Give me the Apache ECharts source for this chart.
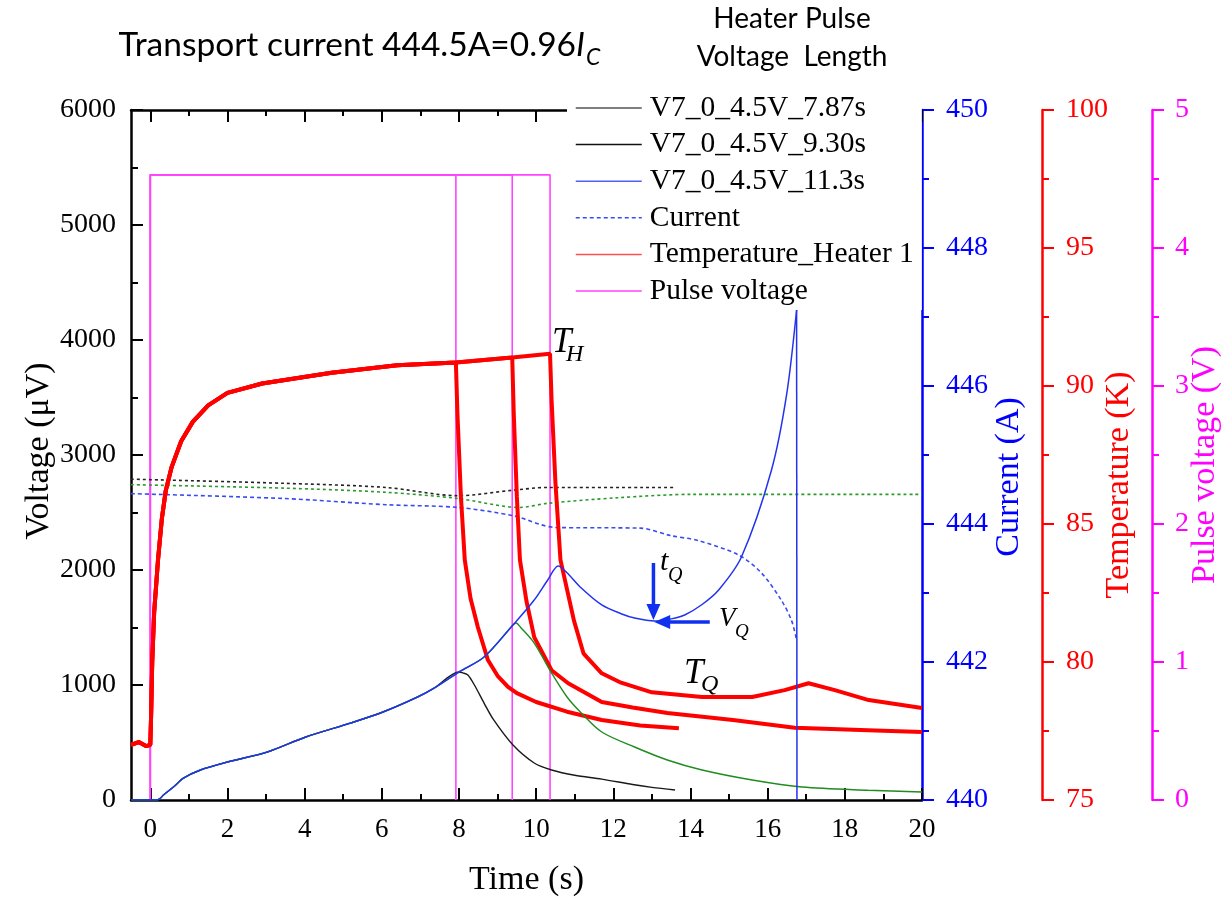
<!DOCTYPE html>
<html><head><meta charset="utf-8">
<script src="https://cdn.jsdelivr.net/npm/echarts@6/dist/echarts.min.js"></script>
<style>html,body{margin:0;padding:0;background:#fff}#c{width:1227px;height:898px}</style>
</head><body><div id="c"></div>
<script>
// ---------- tick labels ----------
const xTicks = [0, 2, 4, 6, 8, 10, 12, 14, 16, 18, 20];
const xMinorTicks = [1, 3, 5, 7, 9, 11, 13, 15, 17, 19];

// ---------- Voltage (µV) vs time (s) ----------
const vRise = [[-0.5,0],[0.15,0],[0.25,12],[0.34,43],[0.6,113],[0.86,190],[1.3,261],[2.0,330],[3.03,417],[4.03,548],[5.2,670],[6.03,765],[6.93,896],[7.36,974],[8.0,1113]];
const vRiseLate = [[8.65,1243],[9.4,1522]];
const vTail787 = [[8.1,1105],[8.23,1087],[8.4,1000],[8.65,843],[8.9,696],[9.4,478],[9.95,322],[10.4,261],[11.0,215],[11.7,182],[12.5,135],[13.0,110],[13.6,87]];
const vTail930 = [[9.48,1539],[9.6,1500],[9.95,1365],[10.4,1104],[10.8,896],[11.17,757],[11.7,591],[12.55,461],[13.4,348],[14.3,261],[15.6,174],[16.9,113],[18.6,85],[20,70]];
const vTail113 = [[9.95,1739],[10.3,1913],[10.57,2035],[10.78,1983],[11.17,1843],[11.7,1696],[12.2,1620],[12.55,1583],[13.07,1557],[13.5,1575],[13.85,1609],[14.3,1700],[14.73,1826],[15.32,2113],[16.1,2870],[16.49,3522],[16.75,4261]];
const vDrop113 = [[16.76,0]];

// ---------- Current (A) ----------
const curr787 = [[-0.5,444.65],[3.45,444.59],[6.1,444.53],[7.97,444.41],[9.4,444.49],[10.3,444.53],[13.6,444.53]];
const curr930 = [[-0.5,444.57],[3.45,444.52],[6.1,444.46],[7.97,444.37],[9.56,444.24],[10.3,444.30],[12.1,444.38],[14.05,444.43],[20,444.43]];
const curr113 = [[-0.5,444.44],[3.45,444.37],[6.1,444.28],[7.97,444.24],[9.4,444.12],[10.5,443.95],[12.7,443.94],[13.5,443.83],[14.2,443.76],[15.25,443.55],[15.84,443.29],[16.36,442.89],[16.62,442.6],[16.75,442.32]];

// ---------- Temperature heater 1 (K) ----------
const tRise = [[-0.5,77.0],[-0.3,77.1],[-0.1,76.95],[0,77.0],[0.02,78],[0.05,80],[0.1,81.8],[0.2,83.7],[0.3,85.2],[0.4,86.2],[0.55,87.05],[0.8,88.0],[1.1,88.7],[1.5,89.3],[2.0,89.75],[2.9,90.09],[4.7,90.48],[6.4,90.75],[7.92,90.85]];
const tRise2 = [[9.38,91.03]];
const tRise3 = [[10.36,91.17]];
const tTail787 = [[7.96,89.0],[8.05,86.0],[8.15,83.7],[8.3,82.3],[8.49,81.26],[8.75,80.07],[9.0,79.5],[9.27,79.1],[9.5,78.87],[10.0,78.55],[10.8,78.2],[11.7,77.9],[12.7,77.7],[13.7,77.6]];
const tTail930 = [[9.42,89.0],[9.5,86.0],[9.58,83.7],[9.75,82.2],[9.95,80.9],[10.4,79.7],[10.83,79.23],[11.7,78.55],[12.5,78.35],[13.4,78.15],[15.1,77.9],[16.7,77.62],[18.6,77.53],[20,77.46]];
const tTail113 = [[10.4,89.5],[10.5,86.5],[10.63,83.7],[10.98,81.5],[11.23,80.3],[11.7,79.59],[12.2,79.25],[13.0,78.9],[14.3,78.73],[15.6,78.73],[16.44,78.98],[17.06,79.23],[17.74,78.98],[18.62,78.62],[20,78.33]];

// ---------- Heater pulse voltage (V) ----------
const pulse787 = [[0,0],[0,4.53],[7.92,4.53],[7.92,0]];
const pulse930 = [[0,0],[0,4.53],[9.38,4.53],[9.38,0]];
const pulse113 = [[0,0],[0,4.53],[10.36,4.53],[10.36,0]];

// ---------- annotation arrows (Time s, Voltage µV) ----------
const arrowTQ = [[13.04,2061],[13.04,1565]];
const arrowVQ = [[14.5,1548],[13.06,1548]];

const SERIF = 'Liberation Serif';
const BLUE = '#0000ff', RED = '#ff0000', MAG = '#ff00ff';

const chart = echarts.init(document.getElementById('c'), null, {renderer:'canvas'});

function xAx(pos, ticks, len, line, labels){
  return {
    type:'value', min:-0.5, max:20, position:pos,
    axisLine:{show:line, onZero:false, lineStyle:{color:'#000', width:2.5}},
    axisTick:{show:true, inside:true, length:len, customValues:ticks, lineStyle:{color:'#000', width:2}},
    axisLabel: labels ? {show:true, customValues:ticks, fontFamily:SERIF, fontSize:27, color:'#000', margin:16}
                      : {show:false},
    splitLine:{show:false}
  };
}
const xAxes = [
  xAx('bottom', xTicks, 12, true, true),
  xAx('bottom', xMinorTicks, 6, false, false),
  xAx('top', xTicks, 12, true, false),
  xAx('top', xMinorTicks, 6, false, false)
];
Object.assign(xAxes[0], {name:'Time (s)', nameLocation:'middle', nameGap:63, nameMoveOverlap:false,
  nameTextStyle:{fontFamily:SERIF, fontSize:34, color:'#000'}});

function yAx(o){
  const c = o.color;
  return {
    type:'value', min:o.min, max:o.max, interval:o.interval, position:o.pos, offset:o.offset||0,
    name:o.name, nameLocation:'middle', nameGap:o.nameGap, nameRotate:90, nameMoveOverlap:false,
    nameTextStyle:{fontFamily:SERIF, fontSize:34, color:c, padding:o.namePad},
    axisLine:{show:true, onZero:false, lineStyle:{color:c, width:2.5}},
    axisTick:{show:true, inside:o.inside, length:12, lineStyle:{color:c, width:2}},
    minorTick:{show:true, splitNumber:2, length:7, lineStyle:{color:c, width:2}},
    axisLabel:{fontFamily:SERIF, fontSize:28, color:c, margin:o.margin, formatter:(v)=>String(v)},
    splitLine:{show:false}, minorSplitLine:{show:false}
  };
}
const yAxes = [
  yAx({min:0,max:6000,interval:1000,pos:'left',color:'#000',name:'Voltage (\u03bcV)',nameGap:75,namePad:[0,0,0,8],inside:true,margin:15}),
  yAx({min:440,max:450,interval:2,pos:'right',color:BLUE,name:'Current (A)',nameGap:70,namePad:[0,44,0,0],inside:false,margin:24}),
  yAx({min:75,max:100,interval:5,pos:'right',offset:120,color:RED,name:'Temperature (K)',nameGap:60,namePad:[0,60,0,0],inside:false,margin:24}),
  yAx({min:0,max:5,interval:1,pos:'right',offset:230,color:MAG,name:'Pulse voltage (V)',nameGap:36,namePad:[0,20,0,0],inside:false,margin:23})
];

function line(name, data, yIdx, color, width, type, smooth){
  return {
    name, type:'line', data, xAxisIndex:0, yAxisIndex:yIdx, symbol:'none', showSymbol:false,
    smooth: smooth||false,
    lineStyle:{color, width, type:type||'solid'}, itemStyle:{color}, animation:false, silent:true
  };
}

const blueMain = vRise.concat(vRiseLate, vTail113);
const series = [
  line('Pulse voltage', pulse787, 3, '#ff44ff', 1.6),
  line('Pulse voltage', pulse930, 3, '#ff44ff', 1.6),
  line('Pulse voltage', pulse113, 3, '#ff44ff', 1.6),
  line('Current_7.87s', curr787, 1, '#222222', 1.6, [3,3], 0.3),
  line('Current_9.30s', curr930, 1, '#2a9a2a', 1.6, [3,3], 0.3),
  line('Current', curr113, 1, '#3a4cf0', 1.6, [4,3], 0.3),
  line('Temperature_Heater 1', tRise.concat(tTail787), 2, RED, 4),
  line('Temperature_Heater 1', tRise.concat(tRise2, tTail930), 2, RED, 4),
  line('Temperature_Heater 1', tRise.concat(tRise2, tRise3, tTail113), 2, RED, 4),
  line('V7_0_4.5V_7.87s', vRise.concat(vTail787), 0, '#1a1a1a', 1.4, null, 0.3),
  line('V7_0_4.5V_9.30s', vRise.concat(vRiseLate, vTail930), 0, '#1f8c1f', 1.4, null, 0.3),
  line('V7_0_4.5V_11.3s', blueMain, 0, '#2233ee', 1.5, null, 0.3),
  line('V7_0_4.5V_11.3s', [blueMain[blueMain.length-1]].concat(vDrop113), 0, '#2233ee', 1.5)
];

function txt(x, y, text, font, align){
  return {type:'text', x, y, silent:true, z:100,
    style:{text, font, fill:'#000', textAlign:align||'left', align:align||'left',
           textVerticalAlign:'middle', verticalAlign:'middle'}};
}
const legendItem = (name, color, w) => ({name, itemStyle:{color, opacity:0}, lineStyle:{color, width:w||1.5, opacity:1}});

const option = {
  backgroundColor:'#fff',
  animation:false,
  grid:{left:131, right:305, top:110, bottom:98, containLabel:false, outerBoundsMode:'none'},
  xAxis:xAxes,
  yAxis:yAxes,
  legend:{
    orient:'vertical', left:567, top:89, itemWidth:66, itemHeight:14, itemGap:6.6,
    padding:[4,8,4,8], backgroundColor:'#fff', z:50,
    selectedMode:false,
    itemStyle:{opacity:0},
    textStyle:{fontFamily:SERIF, fontSize:29.5, color:'#000', lineHeight:30, padding:[0,0,0,3]},
    data:[
      legendItem('V7_0_4.5V_7.87s', '#555'),
      legendItem('V7_0_4.5V_9.30s', '#111'),
      legendItem('V7_0_4.5V_11.3s', '#5060f0'),
      legendItem('Current', '#3a4cf0'),
      legendItem('Temperature_Heater 1', '#ff5050'),
      legendItem('Pulse voltage', '#ff44ff')
    ]
  },
  graphic:[
    txt(576, 45.6, 'Transport current 444.5A=0.96', '33.5px Lato', 'right'),
    txt(576, 45.6, 'I', 'italic 33.5px Lato'),
    txt(586, 58, 'C', 'italic 23px Lato'),
    txt(792, 19, 'Heater Pulse', '28px Lato', 'center'),
    txt(792, 57, 'Voltage  Length', '28px Lato', 'center'),
    txt(552, 343, 'T', 'italic 35px "Liberation Serif"'),
    txt(566, 355, 'H', 'italic 24px "Liberation Serif"'),
    txt(684, 674, 'T', 'italic 35px "Liberation Serif"'),
    txt(701, 685, 'Q', 'italic 24px "Liberation Serif"'),
    txt(660, 562, 't', 'italic 30px "Liberation Serif"'),
    txt(668, 576, 'Q', 'italic 20px "Liberation Serif"'),
    txt(719, 619, 'V', 'italic 27px "Liberation Serif"'),
    txt(735, 632, 'Q', 'italic 19px "Liberation Serif"')
  ],
  series
};
chart.setOption(option);

// arrows drawn from data coordinates through the chart's own scales
function arrow(id, a, b){
  const p0 = chart.convertToPixel({xAxisIndex:0, yAxisIndex:0}, a);
  const p1 = chart.convertToPixel({xAxisIndex:0, yAxisIndex:0}, b);
  const dx = p1[0]-p0[0], dy = p1[1]-p0[1], L = Math.hypot(dx,dy);
  const ux = dx/L, uy = dy/L, hl = 16, hw = 7;
  const bx = p1[0]-ux*hl, by = p1[1]-uy*hl;
  return [
    {type:'line', id:id+'l', silent:true, z:90, shape:{x1:p0[0], y1:p0[1], x2:bx+ux*2, y2:by+uy*2},
     style:{stroke:'#1030f0', lineWidth:3.5}},
    {type:'polygon', id:id+'h', silent:true, z:90,
     shape:{points:[[p1[0],p1[1]],[bx-uy*hw, by+ux*hw],[bx+uy*hw, by-ux*hw]]},
     style:{fill:'#1030f0'}}
  ];
}
chart.setOption({graphic: option.graphic.concat(arrow('aT', arrowTQ[0], arrowTQ[1]), arrow('aV', arrowVQ[0], arrowVQ[1]))});
</script>
</body></html>
